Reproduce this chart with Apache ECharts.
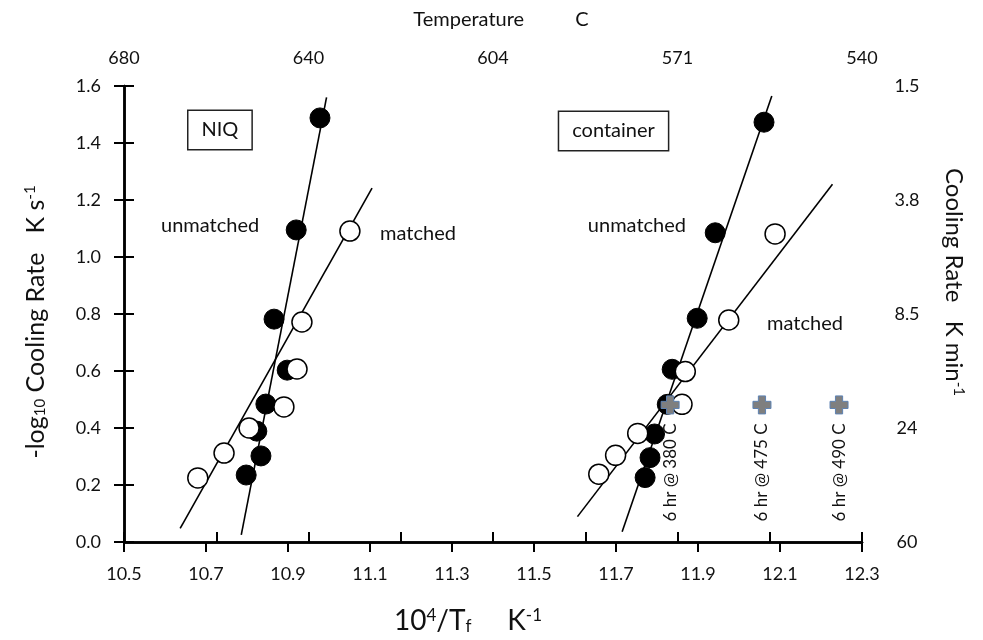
<!DOCTYPE html>
<html>
<head>
<meta charset="utf-8">
<script src="https://cdn.jsdelivr.net/npm/echarts@6/dist/echarts.min.js"></script>
<style>
html,body{margin:0;padding:0;background:#fff;}
#chart{width:983px;height:640px;}
</style>
</head>
<body>
<div id="chart"></div>
<script>
// ---- data (x = 10^4/Tf, y = -log10 cooling rate) ----
const niqUnmatchedX = [10.978, 10.920, 10.866, 10.898, 10.846, 10.824, 10.834, 10.798];
const niqUnmatchedY = [1.488, 1.095, 0.782, 0.603, 0.484, 0.389, 0.302, 0.235];
const niqMatchedX = [11.051, 10.934, 10.922, 10.890, 10.805, 10.744, 10.680];
const niqMatchedY = [1.091, 0.772, 0.607, 0.474, 0.400, 0.312, 0.225];
const contUnmatchedX = [12.061, 11.942, 11.898, 11.837, 11.825, 11.794, 11.783, 11.771];
const contUnmatchedY = [1.473, 1.085, 0.785, 0.606, 0.483, 0.379, 0.296, 0.226];
const contMatchedX = [12.088, 11.975, 11.869, 11.861, 11.753, 11.699, 11.658];
const contMatchedY = [1.081, 0.779, 0.598, 0.483, 0.381, 0.304, 0.238];
const anneal6hrX = [11.832, 12.056, 12.244];
const anneal6hrY = [0.481, 0.481, 0.481];
const anneal6hrLabels = ['6 hr @ 380 C', '6 hr @ 475 C', '6 hr @ 490 C'];
// fitted lines (end points)
const niqUnmatchedFitX = [10.786, 10.994];
const niqUnmatchedFitY = [0.025, 1.560];
const niqMatchedFitX = [10.637, 11.105];
const niqMatchedFitY = [0.048, 1.242];
const contUnmatchedFitX = [11.715, 12.080];
const contUnmatchedFitY = [0.036, 1.565];
const contMatchedFitX = [11.606, 12.228];
const contMatchedFitY = [0.089, 1.255];
// annotations
const boxTexts = ['NIQ', 'container'];
const boxX = [10.734, 11.694];
const boxY = [1.446, 1.442];
const noteTexts = ['unmatched', 'matched', 'unmatched', 'matched'];
const noteX = [10.710, 11.217, 11.751, 12.161];
const noteY = [1.112, 1.084, 1.109, 0.765];
// axes
const xMin = 10.5, xMax = 12.3, xStep = 0.2;
const yMin = 0, yMax = 1.6, yStep = 0.2;
const topTickLabels = ['680', '', '640', '', '604', '', '571', '', '540'];
const rightTickLabels = ['60', '', '24', '', '8.5', '', '3.8', '', '1.5'];

const FONT = 'Lato, "Open Sans", sans-serif';
const INK = '#111';
const pts = (xs, ys) => xs.map((x, i) => [x - xMin, ys[i]]);

const axisLineStyle = {lineStyle: {color: '#000', width: 2.5}};
const tickStyle = {show: true, length: 10, lineStyle: {color: '#000', width: 2}};
const lbl = {fontFamily: FONT, fontSize: 18, color: INK};

const chart = echarts.init(document.getElementById('chart'));
const fitLine = (xs, ys) => ({
  type: 'line', data: pts(xs, ys), symbol: 'none', silent: true,
  lineStyle: {color: '#000', width: 1.6}, z: 1, animation: false
});
const scatter = (xs, ys, filled) => ({
  type: 'scatter', data: pts(xs, ys), symbol: 'circle', symbolSize: 20,
  itemStyle: filled ? {color: '#000', borderColor: '#000', borderWidth: 1, opacity: 1}
                    : {color: '#fff', borderColor: '#000', borderWidth: 1.5, opacity: 1},
  z: filled ? 3 : 4, animation: false
});

chart.setOption({
  animation: false,
  backgroundColor: '#fff',
  grid: {left: 124, right: 121, top: 86, bottom: 98},
  xAxis: [{
    type: 'value', position: 'bottom', min: 0, max: xMax - xMin, interval: xStep,
    axisLine: axisLineStyle, axisTick: tickStyle, splitLine: {show: false},
    axisLabel: Object.assign({margin: 23, formatter: v => (v + xMin).toFixed(1)}, lbl),
    name: '10{sup|4}/T{sub|f}     K{sup|-1}', nameLocation: 'middle', nameGap: 65,
    nameTextStyle: {fontFamily: FONT, fontSize: 28, color: INK, padding: [0, 50, 0, 0],
      rich: {sup: {fontFamily: FONT, fontSize: 17, verticalAlign: 'top', color: INK},
             sub: {fontFamily: FONT, fontSize: 17, verticalAlign: 'bottom', color: INK}}}
  }, {
    type: 'value', position: 'top', min: 0, max: topTickLabels.length - 1, interval: 1,
    axisLine: axisLineStyle, axisTick: tickStyle, splitLine: {show: false},
    axisLabel: Object.assign({margin: 19, formatter: v => topTickLabels[Math.round(v)] || ''}, lbl),
    name: 'Temperature          C', nameLocation: 'middle', nameGap: 56,
    nameTextStyle: {fontFamily: FONT, fontSize: 20, color: INK, padding: [0, 0, 0, 16]}
  }],
  yAxis: [{
    type: 'value', position: 'left', min: yMin, max: yMax, interval: yStep,
    axisLine: axisLineStyle, axisTick: tickStyle, splitLine: {show: false},
    axisLabel: Object.assign({margin: 23, formatter: v => v.toFixed(1)}, lbl),
    name: '-log{sub|10} Cooling Rate   K s{sup|-1}', nameLocation: 'middle', nameGap: 76, nameRotate: 90,
    nameTextStyle: {fontFamily: FONT, fontSize: 25, color: INK, padding: [0, 16, 0, 0],
      rich: {sup: {fontFamily: FONT, fontSize: 15, verticalAlign: 'top', color: INK},
             sub: {fontFamily: FONT, fontSize: 15, verticalAlign: 'bottom', color: INK}}}
  }, {
    type: 'value', position: 'right', min: yMin, max: yMax, interval: yStep,
    axisLine: axisLineStyle, axisTick: tickStyle, splitLine: {show: false},
    axisLabel: Object.assign({margin: 45, align: 'center',
      formatter: v => rightTickLabels[Math.round(v / yStep)] || ''}, lbl),
    name: 'Cooling Rate   K min{sup|-1}', nameLocation: 'middle', nameGap: 80, nameRotate: -90,
    nameTextStyle: {fontFamily: FONT, fontSize: 24, color: INK, padding: [0, 64, 0, 0],
      rich: {sup: {fontFamily: FONT, fontSize: 15, verticalAlign: 'top', color: INK}}}
  }],
  series: [
    fitLine(niqUnmatchedFitX, niqUnmatchedFitY),
    fitLine(niqMatchedFitX, niqMatchedFitY),
    fitLine(contUnmatchedFitX, contUnmatchedFitY),
    fitLine(contMatchedFitX, contMatchedFitY),
    scatter(niqUnmatchedX, niqUnmatchedY, true),
    scatter(niqMatchedX, niqMatchedY, false),
    scatter(contUnmatchedX, contUnmatchedY, true),
    scatter(contMatchedX, contMatchedY, false),
    {
      type: 'scatter', data: pts(anneal6hrX, anneal6hrY),
      symbol: 'path://M3,0 H7 V3 H10 V7 H7 V10 H3 V7 H0 V3 H3 Z', symbolSize: 18,
      itemStyle: {color: '#7f7f7f', borderColor: '#5d82b3', borderWidth: 1, opacity: 1}, z: 5,
      label: {show: true, position: 'bottom', distance: 9, rotate: 90, align: 'right',
        verticalAlign: 'middle', fontFamily: FONT, fontSize: 17, color: INK,
        formatter: p => anneal6hrLabels[p.dataIndex]}
    },
    {
      type: 'scatter', data: pts(boxX, boxY), symbolSize: 1,
      itemStyle: {color: 'rgba(0,0,0,0)', opacity: 1},
      silent: true, z: 6,
      label: {show: true, position: 'inside', fontFamily: FONT, fontSize: 20, color: INK,
        backgroundColor: '#fff', borderColor: '#222', borderWidth: 1.5, padding: [10, 13, 8, 13],
        formatter: p => boxTexts[p.dataIndex]}
    },
    {
      type: 'scatter', data: pts(noteX, noteY), symbolSize: 1,
      itemStyle: {color: 'rgba(0,0,0,0)', opacity: 1},
      silent: true, z: 6,
      label: {show: true, position: 'inside', fontFamily: FONT, fontSize: 20, color: INK,
        formatter: p => noteTexts[p.dataIndex]}
    }
  ]
});
</script>
</body>
</html>
